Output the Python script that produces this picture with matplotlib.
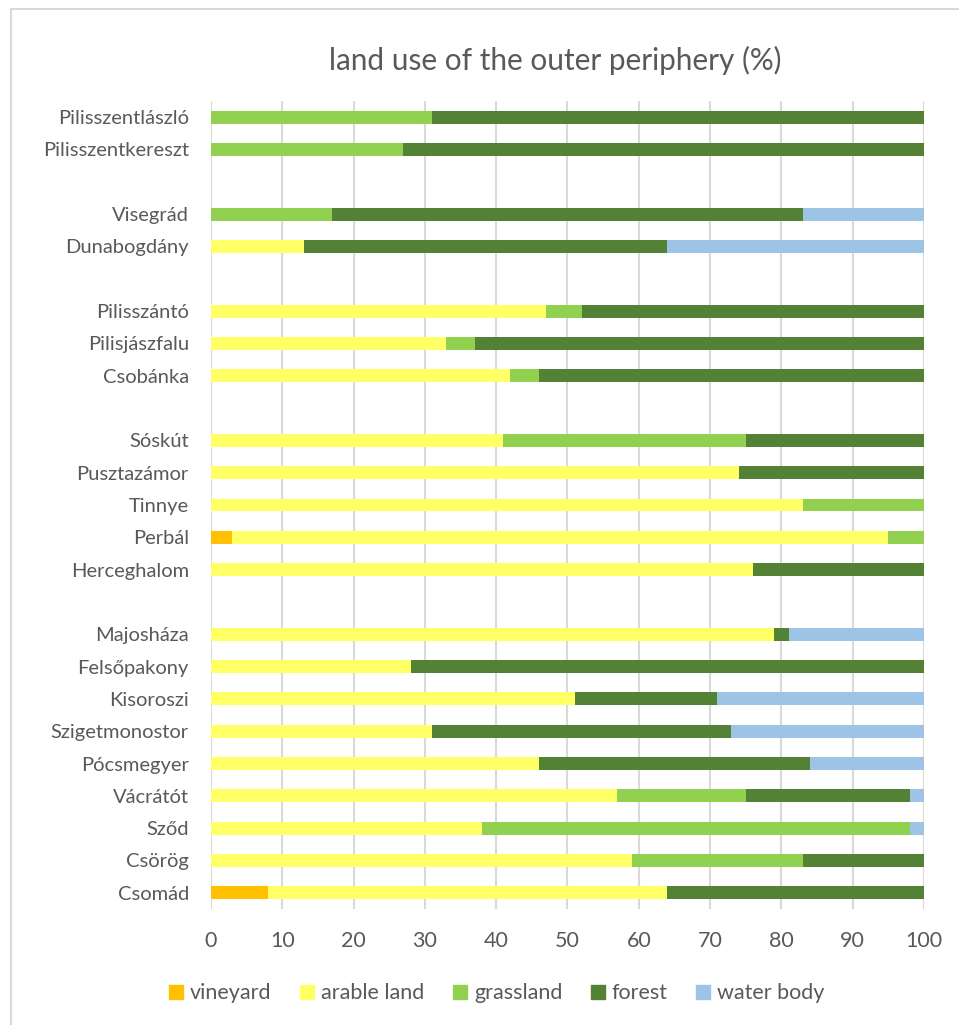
import matplotlib.pyplot as plt
from matplotlib.lines import Line2D
import numpy as np

# Rows from top to bottom; empty strings are the gaps between groups
places = ["Pilisszentlászló", "Pilisszentkereszt", "",
          "Visegrád", "Dunabogdány", "",
          "Pilisszántó", "Pilisjászfalu", "Csobánka", "",
          "Sóskút", "Pusztazámor", "Tinnye", "Perbál", "Herceghalom", "",
          "Majosháza", "Felsőpakony", "Kisoroszi", "Szigetmonostor",
          "Pócsmegyer", "Vácrátót", "Sződ", "Csörög", "Csomád"]

vineyard = [0, 0, 0, 0, 0, 0, 0, 0, 0, 0, 0, 0, 0, 3, 0, 0,
            0, 0, 0, 0, 0, 0, 0, 0, 8]
arable = [0, 0, 0, 0, 13, 0, 47, 33, 42, 0, 41, 74, 83, 92, 76, 0,
          79, 28, 51, 31, 46, 57, 38, 59, 56]
grassland = [31, 27, 0, 17, 0, 0, 5, 4, 4, 0, 34, 0, 17, 5, 0, 0,
             0, 0, 0, 0, 0, 18, 60, 24, 0]
forest = [69, 73, 0, 66, 51, 0, 48, 63, 54, 0, 25, 26, 0, 0, 24, 0,
          2, 72, 20, 42, 38, 23, 0, 17, 36]
water = [0, 0, 0, 17, 36, 0, 0, 0, 0, 0, 0, 0, 0, 0, 0, 0,
         19, 0, 29, 27, 16, 2, 2, 0, 0]

series = [("vineyard", vineyard, "#FFC000"),
          ("arable land", arable, "#FFFF66"),
          ("grassland", grassland, "#92D050"),
          ("forest", forest, "#548235"),
          ("water body", water, "#9DC3E6")]

plt.rcParams["font.family"] = ["Lato", "DejaVu Sans"]
text_col = "#595959"

fig = plt.figure(figsize=(9.59, 10.25), dpi=100)
ax = fig.add_axes([0.220, 0.1132, 0.7435, 0.7883])

y = np.arange(len(places))
left = np.zeros(len(places))
handles = []
for name, vals, col in series:
    vals = np.array(vals, dtype=float)
    ax.barh(y, vals, left=left, height=0.4, color=col, zorder=3)
    left += vals
    handles.append(Line2D([], [], marker="s", linestyle="none", markersize=9.5,
                          markerfacecolor=col, markeredgecolor=col, label=name))

ax.set_xlim(0, 100)
ax.set_ylim(len(places) - 0.5, -0.5)
ax.set_xticks(range(0, 101, 10))
ax.set_yticks(y)
ax.set_yticklabels(places)
ax.tick_params(axis="both", length=0, colors=text_col)
ax.tick_params(axis="x", pad=16, labelsize=15.5)
ax.tick_params(axis="y", pad=16, labelsize=14.5)
ax.grid(axis="x", color="#D9D9D9", linewidth=1.5, zorder=0)
for s in ax.spines.values():
    s.set_visible(False)

fig.text(0.579, 0.941, "land use of the outer periphery (%)", ha="center",
         va="center", fontsize=21.4, color=text_col)

fig.legend(handles=handles, loc="center", bbox_to_anchor=(0.518, 0.031), ncol=5,
           frameon=False, fontsize=15.5, labelcolor=text_col, handlelength=0.7,
           handletextpad=0.3, columnspacing=1.3)

# chart frame (top and left edges)
fig.add_artist(Line2D([11 / 959, 11 / 959], [0, 1 - 9 / 1025], transform=fig.transFigure,
                      color="#D9D9D9", linewidth=1.5))
fig.add_artist(Line2D([11 / 959, 1], [1 - 9 / 1025, 1 - 9 / 1025], transform=fig.transFigure,
                      color="#D9D9D9", linewidth=1.5))

fig.savefig("out.png", dpi=100)
